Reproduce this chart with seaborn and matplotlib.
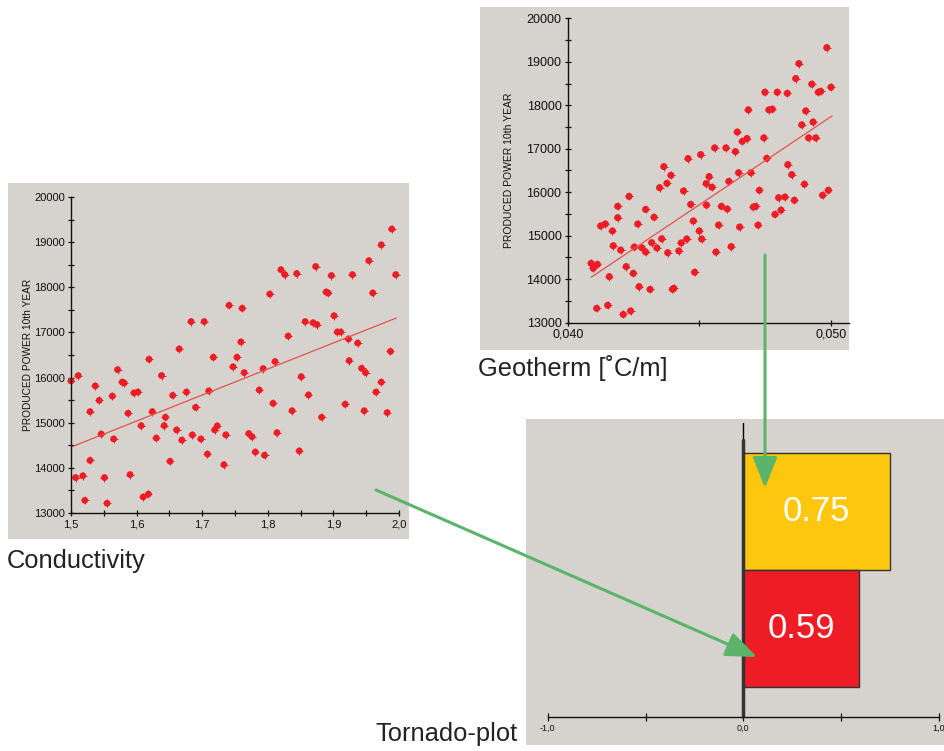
import matplotlib
matplotlib.use("Agg")
import matplotlib.pyplot as plt
from matplotlib.patches import Rectangle
from matplotlib.ticker import MultipleLocator, FixedLocator, FuncFormatter
import seaborn as sns

# Conductivity scatter
cond_x = [1.500, 1.511, 1.507, 1.518, 1.521, 1.537, 1.543, 1.529, 1.529, 1.546,
          1.551, 1.555, 1.563, 1.565, 1.571, 1.578, 1.581, 1.587, 1.590, 1.596,
          1.602, 1.607, 1.610, 1.618, 1.619, 1.624, 1.630, 1.638, 1.642, 1.644,
          1.651, 1.655, 1.661, 1.665, 1.669, 1.676, 1.683, 1.685, 1.690, 1.698,
          1.703, 1.708, 1.710, 1.717, 1.719, 1.723, 1.733, 1.736, 1.741, 1.747,
          1.753, 1.759, 1.761, 1.764, 1.771, 1.776, 1.781, 1.787, 1.793, 1.795,
          1.803, 1.808, 1.811, 1.814, 1.820, 1.826, 1.831, 1.837, 1.844, 1.848,
          1.851, 1.857, 1.862, 1.869, 1.875, 1.873, 1.882, 1.889, 1.892, 1.897,
          1.901, 1.906, 1.911, 1.918, 1.923, 1.924, 1.929, 1.937, 1.943, 1.947,
          1.949, 1.954, 1.960, 1.965, 1.973, 1.973, 1.982, 1.987, 1.989, 1.995]
cond_power = [15925, 16045, 13785, 13825, 13280, 15815, 15495, 15245, 14165, 14750,
              13785, 13215, 15590, 14640, 16175, 15900, 15880, 15210, 13850, 15660,
              15680, 14935, 13355, 13420, 16405, 15245, 14660, 16045, 14935, 15120,
              14145, 15605, 14840, 16635, 14615, 15680, 17240, 14730, 15340, 14640,
              17240, 14305, 15705, 16450, 14840, 14930, 14070, 14730, 17600, 16240,
              16450, 16790, 17535, 16110, 14760, 14690, 14350, 15725, 16200, 14280,
              17850, 15430, 16355, 14780, 18390, 18280, 16920, 15265, 18305, 14375,
              16020, 17240, 15615, 17215, 17175, 18460, 15120, 17895, 17875, 18260,
              17370, 17010, 17010, 15410, 16855, 16375, 18280, 16765, 16205, 15265,
              16110, 18590, 17875, 15680, 15900, 18940, 15225, 16580, 19290, 18280]
cond_trend_x = [1.500, 1.996]
cond_trend_y = [14460, 17320]

# Geotherm scatter
geo_x = [0.04089, 0.04097, 0.04113, 0.04110, 0.04152, 0.04211, 0.04239, 0.04125, 0.04143, 0.04170,
         0.04190, 0.04190, 0.04173, 0.04201, 0.04158, 0.04222, 0.04233, 0.04249, 0.04266, 0.04253,
         0.04271, 0.04282, 0.04296, 0.04296, 0.04313, 0.04319, 0.04328, 0.04339, 0.04357, 0.04365,
         0.04349, 0.04377, 0.04380, 0.04392, 0.04422, 0.04431, 0.04452, 0.04440, 0.04457, 0.04467,
         0.04477, 0.04482, 0.04403, 0.04398, 0.04500, 0.04509, 0.04505, 0.04527, 0.04526, 0.04537,
         0.04548, 0.04558, 0.04563, 0.04573, 0.04584, 0.04601, 0.04606, 0.04612, 0.04621, 0.04637,
         0.04644, 0.04649, 0.04653, 0.04663, 0.04681, 0.04686, 0.04696, 0.04705, 0.04714, 0.04723,
         0.04728, 0.04745, 0.04749, 0.04756, 0.04764, 0.04777, 0.04787, 0.04796, 0.04801, 0.04810,
         0.04825, 0.04834, 0.04836, 0.04851, 0.04861, 0.04866, 0.04878, 0.04889, 0.04899, 0.04904,
         0.04915, 0.04927, 0.04932, 0.04942, 0.04952, 0.04961, 0.04968, 0.04990, 0.04984, 0.05000]
geo_power = [14365, 14250, 14340, 13330, 13400, 13190, 13270, 15225, 15270, 15110,
             15415, 15675, 14770, 14670, 14060, 14290, 15905, 14135, 15270, 14740,
             13830, 14720, 14625, 15605, 13765, 14840, 15425, 14720, 14930, 16590,
             16105, 16205, 14610, 16390, 14650, 14835, 14925, 16030, 16775, 15720,
             15340, 14160, 13790, 13770, 15110, 14925, 16865, 15705, 16200, 16360,
             16115, 17020, 14625, 15245, 15675, 17020, 15615, 16250, 14750, 16935,
             17385, 16450, 15200, 17170, 17235, 17895, 16450, 15660, 15675, 15245,
             16045, 17250, 18300, 16780, 17895, 17910, 15490, 18300, 15875, 15590,
             15890, 18275, 16635, 16405, 15815, 18615, 18960, 17550, 16185, 17870,
             17250, 18485, 17615, 17250, 18300, 18320, 15930, 16045, 19325, 18415]
geo_trend_x = [0.04089, 0.05004]
geo_trend_y = [14045, 17755]

# Tornado plot
tornado_params = ["Geotherm", "Conductivity"]
tornado_values = [0.75, 0.59]
tornado_colors = ["#fcc70e", "#ee1c25"]

W, H = 944, 751
GRAY = "#d6d3ce"
RED = "#ee1c25"
GREEN = "#5ab46a"

sns.set_style("ticks")
plt.rcParams["font.family"] = ["Liberation Sans", "DejaVu Sans"]

fig = plt.figure(figsize=(W / 100, H / 100), dpi=100)
fig.patch.set_facecolor("white")


def px_axes(x0, y0, x1, y1):
    return fig.add_axes([x0 / W, 1 - y1 / H, (x1 - x0) / W, (y1 - y0) / H])


def comma(fmt):
    return FuncFormatter(lambda v, p: format(v, fmt).replace(".", ","))


# gray panel backgrounds
bg = px_axes(0, 0, W, H)
bg.set_xlim(0, W)
bg.set_ylim(H, 0)
bg.axis("off")
for x0, y0, x1, y1 in [(8, 183, 409, 539), (480, 7, 849, 350), (526, 419, 944, 745)]:
    bg.add_patch(Rectangle((x0, y0), x1 - x0, y1 - y0, color=GRAY, lw=0))


def style_scatter(ax, fs):
    ax.set_facecolor("none")
    for s in ["top", "right"]:
        ax.spines[s].set_visible(False)
    for s in ["left", "bottom"]:
        ax.spines[s].set_color("#111")
        ax.spines[s].set_linewidth(1)
    ax.set_ylim(13000, 20000)
    ax.yaxis.set_major_locator(MultipleLocator(1000))
    ax.yaxis.set_minor_locator(MultipleLocator(500))
    ax.tick_params(which="both", direction="inout", color="#111", width=0.9,
                   labelsize=fs, labelcolor="#111", pad=2)
    ax.tick_params(which="major", length=5)
    ax.tick_params(which="minor", length=4)
    ax.set_xlabel("")
    ax.set_ylabel("PRODUCED POWER 10th YEAR", fontsize=7.3, color="#111")


# left scatter: conductivity
ax1 = px_axes(71, 197, 399, 513)
sns.scatterplot(x=cond_x, y=cond_power, color=RED, s=24, edgecolor="none",
                clip_on=False, ax=ax1)
sns.scatterplot(x=cond_x, y=cond_power, color=RED, s=30, marker="+",
                linewidth=0.7, clip_on=False, ax=ax1)
sns.lineplot(x=cond_trend_x, y=cond_trend_y, color="#e8504a", lw=0.9, ax=ax1)
ax1.set_xlim(1.5, 2.0)
ax1.xaxis.set_major_locator(MultipleLocator(0.1))
ax1.xaxis.set_minor_locator(MultipleLocator(0.05))
ax1.xaxis.set_major_formatter(comma(".1f"))
style_scatter(ax1, 8)
ax1.yaxis.set_label_coords(-0.116, 0.5)

# right scatter: geotherm
ax2 = px_axes(567.7, 18.3, 849, 322.7)
sns.scatterplot(x=geo_x, y=geo_power, color=RED, s=26, edgecolor="none",
                clip_on=False, ax=ax2)
sns.scatterplot(x=geo_x, y=geo_power, color=RED, s=34, marker="+",
                linewidth=0.7, clip_on=False, ax=ax2)
sns.lineplot(x=geo_trend_x, y=geo_trend_y, color="#e8504a", lw=0.9, ax=ax2)
ax2.set_xlim(0.040, 0.040 + (849 - 567.7) / 26330)
ax2.xaxis.set_major_locator(FixedLocator([0.040, 0.045, 0.050]))
ax2.xaxis.set_major_formatter(FuncFormatter(
    lambda v, p: "" if abs(v - 0.045) < 1e-6 else format(v, ".3f").replace(".", ",")))
ax2.xaxis.set_minor_locator(FixedLocator([]))
style_scatter(ax2, 9)
ax2.set_ylabel("PRODUCED POWER 10th YEAR", fontsize=7.5, color="#111")
ax2.yaxis.set_label_coords(-0.192, 0.5)

# tornado plot
ax3 = px_axes(547.7, 423, 939, 717.3)
ax3.set_facecolor("none")
sns.barplot(x=tornado_values, y=tornado_params, hue=tornado_params,
            palette=tornado_colors, legend=False, width=1.0, orient="h",
            edgecolor="#333", linewidth=1, saturation=1, ax=ax3)
for i, v in enumerate(tornado_values):
    ax3.text(v / 2, i, f"{v:.2f}", ha="center", va="center", color="white",
             fontsize=25)
ax3.axvline(0, color="black", lw=1, zorder=5)
ax3.axvline(0, ymin=0, ymax=0.942, color="#333", lw=2.5, zorder=5)
ax3.set_xlim(-1, 1)
ax3.set_ylim(1.762, -0.76)
for s in ["top", "right", "left"]:
    ax3.spines[s].set_visible(False)
ax3.spines["bottom"].set_color("#111")
ax3.spines["bottom"].set_linewidth(1)
ax3.set_yticks([])
ax3.set_xticks([-1.0, -0.5, 0.0, 0.5, 1.0])
ax3.set_xticklabels(["-1,0", "", "0,0", "", "1,0"])
ax3.tick_params(axis="x", direction="inout", length=6, width=0.9, color="#111",
                labelsize=6.5, labelcolor="#111", pad=2)
ax3.set_xlabel("")
ax3.set_ylabel("")

# captions and arrows on top
ov = px_axes(0, 0, W, H)
ov.set_xlim(0, W)
ov.set_ylim(H, 0)
ov.axis("off")
cap = dict(fontsize=18.4, color="#222", va="baseline", ha="left")
ov.text(7, 568, "Conductivity", **cap)
ov.text(478, 376, "Geotherm [\u02daC/m]", **cap)
ov.text(375, 741.5, "Tornado-plot", **cap)

arrow = dict(arrowstyle="-|>,head_length=0.95,head_width=0.38", color=GREEN,
             lw=2.2, shrinkA=0, shrinkB=0, mutation_scale=20)
ov.annotate("", xy=(765, 488), xytext=(765, 255), arrowprops=arrow)
ov.annotate("", xy=(757, 657), xytext=(376, 490), arrowprops=arrow)

fig.savefig("out.png", dpi=100)
